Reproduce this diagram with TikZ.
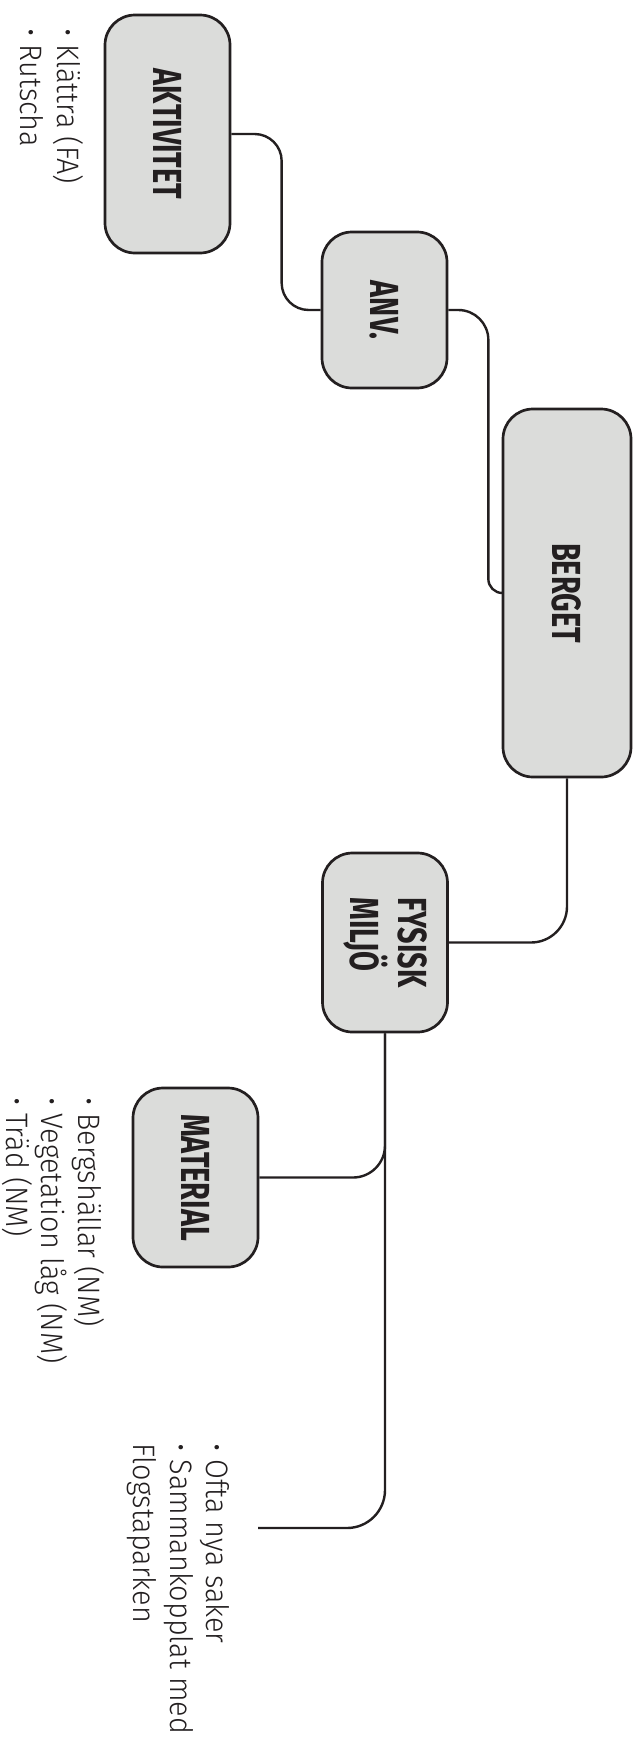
\documentclass[tikz,border=0pt]{standalone}
\usepackage{fontspec}
\usepackage{graphicx}
\usetikzlibrary{calc}
\newfontfamily\boxfont{Fira Sans}[FakeStretch=0.71]
\newfontfamily\lightfont{Fira Sans Light}[FakeStretch=0.93]
\definecolor{boxfill}{HTML}{DBDCDA}
\definecolor{ink}{HTML}{231F20}
\tikzset{
  box/.style={draw=ink, line width=2.7pt, fill=boxfill, rounded corners=30pt,
    inner sep=0pt, minimum width=125pt, text=ink,
    font=\boxfont\bfseries\fontsize{40.6}{48}\selectfont},
  conn/.style={draw=ink, line width=2.4pt},
  item/.style={rotate=-90, anchor=base west, inner sep=0pt, text=ink,
    font=\lightfont\fontsize{31}{37}\selectfont},
}
\begin{document}
\begin{tikzpicture}[x=1pt,y=-1pt]
\useasboundingbox (0,0) rectangle (640,1738);
% boxes
\node[box, minimum height=238pt] (akt) at (167.5,134) {\rotatebox{-90}{AKTIVITET}};
\node[box, minimum height=156pt] (anv) at (384.5,310) {\rotatebox{-90}{ANV.}};
\node[box, minimum width=128pt, minimum height=368pt] (berget) at (567,593) {\rotatebox{-90}{BERGET}};
\node[box, minimum height=179pt] (fys) at (385,942.5) {\rotatebox{-90}{\vbox{\hbox{FYSISK}\hbox{MILJÖ}}}};
\node[box, minimum height=179pt] (mat) at (195.5,1177.5) {\rotatebox{-90}{MATERIAL}};
% connectors
\draw[conn, rounded corners=27pt] (akt.east) -| ($(anv.west)+(-39,0)$) -- (anv.west);
\draw[conn] (anv.east) [rounded corners=30pt] -- ($(anv.east)+(40,0)$) [rounded corners=14pt] |- (berget.west);
\draw[conn, rounded corners=36pt] (berget.south) |- (fys.east);
\draw[conn, rounded corners=32pt] (fys.south) |- (mat.east);
\coordinate (free) at (258,1528);
\draw[conn, rounded corners=38pt] (fys.south) |- (free);
% lists
\node[item] (a1) at (57,28) {• Klättra (FA)};
\node[item] (a2) at (20,28) {• Rutscha};
\node[item] (m1) at (78,1097) {• Bergshällar (NM)};
\node[item] (m2) at (41.5,1097) {• Vegetation låg (NM)};
\node[item] (m3) at (6,1097) {• Träd (NM)};
\node[item] (o1) at (206,1443) {• Ofta nya saker};
\node[item] (o2) at (170,1443) {• Sammankopplat med};
\node[item] (o3) at (133,1443) {Flogstaparken};
\end{tikzpicture}
\end{document}
